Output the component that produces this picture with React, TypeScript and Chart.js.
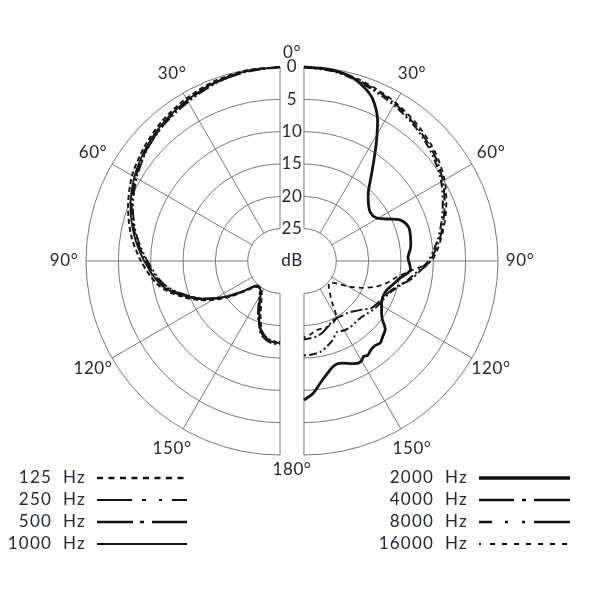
import { useEffect, useRef } from "react"
import { Chart, registerables } from "chart.js"

Chart.register(...registerables)

// Polar response of the microphone, dB below the on-axis level
// Left half: low frequencies, right half: high frequencies
const leftAngles = [0, 10, 20, 30, 40, 50, 60, 70, 80, 90, 100, 105, 110, 115, 120, 125, 130, 135, 140, 145, 150, 155, 160, 165, 170, 175, 180]
const db125 = [0, 0.1, 0.4, 1.0, 1.7, 2.6, 3.6, 5.0, 6.6, 8.5, 10.5, 12.0, 13.9, 15.8, 18.0, 20.3, 22.6, 24.2, 24.8, 24.8, 24.3, 23.2, 21.2, 19.0, 17.9, 17.5, 17.4]
const db250 = [0, 0.2, 0.8, 1.6, 2.3, 3.2, 4.4, 5.8, 7.5, 9.5, 11.4, 12.8, 14.6, 16.4, 18.6, 20.9, 23.1, 24.6, 24.9, 24.6, 23.6, 22.0, 20.2, 18.9, 18.0, 17.6, 17.5]
const db500 = [0, 0.3, 0.7, 1.4, 2.2, 3.1, 4.2, 5.6, 7.3, 9.3, 11.2, 12.6, 14.4, 16.3, 18.5, 20.8, 23.0, 24.5, 24.8, 24.5, 23.8, 22.3, 20.4, 18.4, 17.6, 17.2, 17.1]
const db1000 = [0, 0.2, 0.6, 1.3, 2.0, 2.9, 4.0, 5.4, 7.1, 9.0, 10.9, 12.3, 14.2, 16.1, 18.3, 20.6, 22.9, 24.4, 24.8, 24.7, 24.0, 22.6, 20.6, 18.6, 17.7, 17.4, 17.3]

const angles2000 = [0, 5, 9, 13, 16, 20, 23, 27, 31, 35, 39, 43, 48, 54, 59, 63, 67, 72, 77, 83, 88, 95, 100, 105, 109, 113, 117, 121, 126, 130, 134, 137, 140, 143, 146, 148, 150, 152, 155, 159, 162, 165, 168, 172, 176, 180]
const db2000 = [0, 0.05, 0.15, 0.45, 0.85, 1.8, 2.8, 5.0, 8.2, 11.2, 13.6, 15.4, 16.6, 17.3, 17.0, 15.7, 13.8, 13.0, 13.1, 13.4, 13.9, 13.5, 14.9, 15.8, 16.4, 16.6, 16.5, 16.0, 15.1, 13.6, 13.1, 12.7, 12.9, 12.8, 12.4, 12.6, 12.2, 12.1, 12.5, 13.1, 13.3, 13.0, 12.3, 11.1, 9.5, 8.5]

const rightAngles = [0, 10, 20, 30, 40, 50, 60, 70, 80, 90, 95, 100, 105, 110, 115, 120, 125, 130, 135, 140, 145, 150, 155, 160, 165, 170, 175, 180]
const db4000 = [0, 0.3, 1.1, 1.9, 2.9, 3.9, 5.2, 6.9, 8.6, 10.5, 12.0, 13.3, 15.0, 16.0, 16.5, 16.9, 17.3, 18.3, 19.0, 19.5, 19.7, 19.8, 19.7, 19.2, 18.6, 18.2, 18.0, 17.9]
const db8000 = [0, 0.4, 1.3, 2.2, 3.1, 4.2, 5.5, 7.2, 8.9, 10.8, 12.3, 13.6, 14.8, 15.8, 16.3, 16.6, 16.9, 17.3, 17.6, 17.6, 17.5, 17.6, 17.9, 17.0, 16.3, 15.7, 15.5, 15.4]
const db16000 = [0, 0.2, 0.9, 1.7, 2.6, 3.6, 4.9, 6.6, 8.4, 10.3, 13.3, 15.5, 16.8, 18.3, 20.2, 22.2, 24.0, 24.8, 24.6, 23.8, 22.6, 20.0, 19.4, 19.2, 19.2, 19.1, 18.6, 18.2]

// grid
const ringValues = [0, 5, 10, 15, 20, 25]
const spokeAngles = [0, 30, 60, 90, 120, 150, 180]
const angleLabels = ["30°", "60°", "90°", "120°", "150°"]
const angleLabelValues = [30, 60, 90, 120, 150]

const leftLegend = ["125  Hz", "250  Hz", "500  Hz", "1000  Hz"]
const rightLegend = ["2000  Hz", "4000  Hz", "8000  Hz", "16000  Hz"]

const DB_RANGE = 25
const HUB = 5 // radius of the centre hub, in dB units
const GAP = 1.85 // half width of the centre strip, in dB units
const OUTER = HUB + DB_RANGE

const INK = "#232838"
const FONT = "Lato, 'Open Sans', sans-serif"

const toPoints = (angles: number[], dbs: number[], side: number) =>
  angles.map((a, i) => {
    const r = HUB + DB_RANGE - dbs[i]
    const t = (a * Math.PI) / 180
    return { x: side * (GAP + r * Math.sin(t)), y: r * Math.cos(t) }
  })

const fineDash = [2, 9, 5, 7, 5, 7, 5, 7, 5, 7, 5, 7, 5, 7, 5, 7]

const styles = {
  "125": { width: 2, dash: [5, 3], legendDash: [6, 5.5], legendWidth: 2.5 },
  "250": { width: 1.8, dash: [12, 3, 2, 3, 2, 3], legendDash: [35, 10, 4, 13, 3, 10, 20, 0], legendWidth: 2 },
  "500": { width: 2, dash: [12, 3, 2, 3], legendDash: [36, 7, 4, 8, 40, 0], legendWidth: 2.5 },
  "1000": { width: 1.8, dash: [], legendDash: [], legendWidth: 2 },
  "2000": { width: 2.8, dash: [], legendDash: [], legendWidth: 3.5 },
  "4000": { width: 2, dash: [12, 3, 2, 3], legendDash: [35, 8, 4, 8, 40, 0], legendWidth: 2.5 },
  "8000": { width: 2, dash: [8, 3, 2, 3, 2, 3], legendDash: [13, 13, 3, 14, 3, 9, 40, 0], legendWidth: 2.5 },
  "16000": { width: 1.8, dash: [5, 4], legendDash: fineDash, legendWidth: 2 },
}

const polarGrid = {
  id: "polarGrid",
  beforeDatasetsDraw(chart: Chart) {
    const { ctx } = chart
    const xs = chart.scales.x
    const ys = chart.scales.y
    const px = (v: number) => xs.getPixelForValue(v)
    const py = (v: number) => ys.getPixelForValue(v)
    ctx.save()
    ctx.strokeStyle = "#787878"
    ctx.lineWidth = 1
    for (const side of [-1, 1]) {
      const cx = px(side * GAP)
      const cy = py(0)
      for (const db of ringValues) {
        const r = HUB + DB_RANGE - db
        const rx = px(r) - px(0)
        const ry = py(0) - py(r)
        ctx.beginPath()
        if (side < 0) ctx.ellipse(cx, cy, rx, ry, 0, Math.PI / 2, (3 * Math.PI) / 2)
        else ctx.ellipse(cx, cy, rx, ry, 0, -Math.PI / 2, Math.PI / 2)
        ctx.stroke()
      }
      for (const a of spokeAngles) {
        const t = (a * Math.PI) / 180
        ctx.beginPath()
        ctx.moveTo(px(side * (GAP + HUB * Math.sin(t))), py(HUB * Math.cos(t)))
        ctx.lineTo(px(side * (GAP + OUTER * Math.sin(t))), py(OUTER * Math.cos(t)))
        ctx.stroke()
      }
    }
    ctx.restore()
  },
  afterDraw(chart: Chart) {
    const { ctx } = chart
    const xs = chart.scales.x
    const ys = chart.scales.y
    const px = (v: number) => xs.getPixelForValue(v)
    const py = (v: number) => ys.getPixelForValue(v)
    ctx.save()
    ctx.fillStyle = INK
    ctx.textAlign = "center"
    ctx.textBaseline = "middle"
    ctx.font = `17px ${FONT}`
    ;(ctx as any).letterSpacing = "0.6px"
    // dB ring labels in the centre strip
    for (const db of ringValues) {
      ctx.fillText(String(db), px(0), py(HUB + DB_RANGE - db))
    }
    ctx.fillText("dB", px(0), py(0))
    // angle labels
    const lr = OUTER + 3.4
    for (const side of [-1, 1]) {
      angleLabelValues.forEach((a, i) => {
        const t = (a * Math.PI) / 180
        ctx.fillText(angleLabels[i], px(side * (GAP + lr * Math.sin(t))), py(lr * Math.cos(t)))
      })
    }
    ctx.fillText("0°", px(0), py(OUTER + 2.2))
    ctx.fillText("180°", px(0), py(-(OUTER + 2.2)))

    // legend
    ;(ctx as any).letterSpacing = "1.2px"
    const rowY = (i: number) => 478 + i * 22
    const drawCol = (labels: string[], keys: string[], textRight: number, x0: number, x1: number) => {
      labels.forEach((lab, i) => {
        const y = rowY(i)
        ctx.textAlign = "right"
        ctx.fillStyle = INK
        ctx.fillText(lab, textRight, y)
        const st = styles[keys[i] as keyof typeof styles]
        ctx.beginPath()
        ctx.setLineDash(st.legendDash)
        ctx.lineWidth = st.legendWidth
        ctx.strokeStyle = "#111"
        ctx.moveTo(x0, y)
        ctx.lineTo(x1, y)
        ctx.stroke()
      })
      ctx.setLineDash([])
    }
    drawCol(leftLegend, ["125", "250", "500", "1000"], 86, 97, 187)
    drawCol(rightLegend, ["2000", "4000", "8000", "16000"], 468, 479, 570)
    ctx.restore()
  },
}

export default function App() {
  const chartRef = useRef<HTMLCanvasElement>(null)
  const chartInstance = useRef<Chart | null>(null)

  useEffect(() => {
    if (!chartRef.current) return
    document.body.style.margin = "0"

    if (chartInstance.current) {
      chartInstance.current.destroy()
    }
    const ctx = chartRef.current.getContext("2d")
    if (!ctx) return

    const series = [
      { key: "125", pts: toPoints(leftAngles, db125, -1) },
      { key: "250", pts: toPoints(leftAngles, db250, -1) },
      { key: "500", pts: toPoints(leftAngles, db500, -1) },
      { key: "1000", pts: toPoints(leftAngles, db1000, -1) },
      { key: "2000", pts: toPoints(angles2000, db2000, 1) },
      { key: "4000", pts: toPoints(rightAngles, db4000, 1) },
      { key: "8000", pts: toPoints(rightAngles, db8000, 1) },
      { key: "16000", pts: toPoints(rightAngles, db16000, 1) },
    ]

    chartInstance.current = new Chart(ctx, {
      type: "scatter",
      data: {
        datasets: series.map((s) => {
          const st = styles[s.key as keyof typeof styles]
          return {
            label: `${s.key} Hz`,
            data: s.pts,
            showLine: true,
            pointRadius: 0,
            borderColor: "#151515",
            borderWidth: st.width,
            borderDash: st.dash,
            tension: 0.3,
            clip: false,
          }
        }),
      },
      options: {
        responsive: true,
        maintainAspectRatio: false,
        animation: false,
        events: [],
        layout: {
          padding: { left: 86, right: 102, top: 67, bottom: 145 },
        },
        plugins: {
          legend: { display: false },
          tooltip: { enabled: false },
        },
        scales: {
          x: { type: "linear", display: false, min: -(OUTER + GAP), max: OUTER + GAP },
          y: { type: "linear", display: false, min: -OUTER, max: OUTER },
        },
      },
      plugins: [polarGrid],
    })

    return () => {
      if (chartInstance.current) {
        chartInstance.current.destroy()
        chartInstance.current = null
      }
    }
  }, [])

  return (
    <div style={{ position: "absolute", left: 0, top: 0, width: 600, height: 600, background: "#fff" }}>
      <canvas ref={chartRef} aria-label="Polar pattern chart"></canvas>
    </div>
  )
}
